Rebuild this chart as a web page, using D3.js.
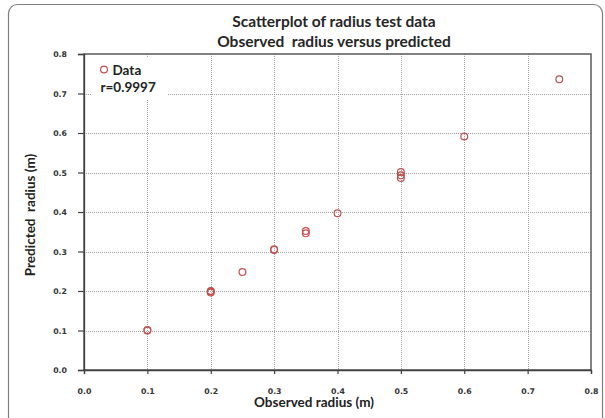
<!DOCTYPE html>
<html>
<head>
<meta charset="utf-8">
<script src="https://cdn.jsdelivr.net/npm/d3@7"></script>
<style>
  html, body { margin: 0; padding: 0; background: #fff; }
  svg { display: block; }
  text { white-space: pre; }
</style>
</head>
<body>
<svg id="chart" width="605" height="418"></svg>
<script>
// ---- data ----
const observed  = [0.1, 0.1, 0.2, 0.2, 0.2, 0.25, 0.3, 0.3, 0.35, 0.35, 0.4, 0.5, 0.5, 0.5, 0.6, 0.75];
const predicted = [0.1, 0.101, 0.196, 0.2, 0.198, 0.248, 0.304, 0.306, 0.346, 0.352, 0.397, 0.486, 0.493, 0.501, 0.591, 0.736];
const xTicks = [0, 0.1, 0.2, 0.3, 0.4, 0.5, 0.6, 0.7, 0.8];
const yTicks = [0, 0.1, 0.2, 0.3, 0.4, 0.5, 0.6, 0.7, 0.8];
const titleLines = ["Scatterplot of radius test data", "Observed  radius versus predicted"];
const xTitle = "Observed radius (m)";
const yTitle = "Predicted  radius (m)";
const legendLabel = "Data";
const rLabel = "r=0.9997";

(function () {
const svg = d3.select("#chart");
const font = "Lato, 'Open Sans', sans-serif";
const pL = 84, pR = 591, pT = 54, pB = 370;

const x = d3.scaleLinear().domain([0, 0.8]).range([pL, pR]);
const y = d3.scaleLinear().domain([0, 0.8]).range([pB, pT]);

// outer frame
svg.append("rect").attr("x", 8.5).attr("y", 4.5).attr("width", 594).attr("height", 430)
  .attr("rx", 9).attr("fill", "#fff").attr("stroke", "#7f7f7f").attr("stroke-width", 1.2);

// gridlines
const grid = svg.append("g");
grid.selectAll("line.v").data(xTicks.slice(1, -1)).join("line")
  .attr("x1", d => Math.round(x(d)) + 0.5).attr("x2", d => Math.round(x(d)) + 0.5)
  .attr("y1", pT).attr("y2", pB)
  .attr("stroke", "#a0a0a0").attr("stroke-width", 1).attr("stroke-dasharray", "1,1");
grid.selectAll("line.h").data(yTicks.slice(1, -1)).join("line")
  .attr("y1", d => Math.round(y(d)) + 0.5).attr("y2", d => Math.round(y(d)) + 0.5)
  .attr("x1", pL).attr("x2", pR)
  .attr("stroke", "#a0a0a0").attr("stroke-width", 1).attr("stroke-dasharray", "1,1");

// legend background (covers gridlines)
svg.append("rect").attr("x", 92).attr("y", 58).attr("width", 76).attr("height", 42).attr("fill", "#fff");

// plot box
svg.append("rect").attr("x", pL).attr("y", pT).attr("width", pR - pL).attr("height", pB - pT)
  .attr("fill", "none").attr("stroke", "#404040").attr("stroke-width", 1.3);

// axes
const xAxis = d3.axisBottom(x).tickValues(xTicks).tickFormat(d3.format(".1f")).tickSize(4).tickPadding(14);
const yAxis = d3.axisLeft(y).tickValues(yTicks).tickFormat(d3.format(".1f")).tickSize(6).tickPadding(11);
const gx = svg.append("g").attr("transform", `translate(0,${pB})`).call(xAxis);
const gy = svg.append("g").attr("transform", `translate(${pL},0)`).call(yAxis);
[gx, gy].forEach(g => {
  g.select(".domain").attr("stroke", "#404040").attr("stroke-width", 1.3);
  g.selectAll(".tick line").attr("stroke", "#404040").attr("stroke-width", 1.2);
  g.selectAll(".tick text").attr("font-family", "'DejaVu Sans', sans-serif")
    .attr("font-size", 7.8).attr("font-weight", "bold").attr("fill", "#333");
});

// points
svg.append("g").selectAll("circle").data(observed.map((o, i) => [o, predicted[i]])).join("circle")
  .attr("cx", d => x(d[0])).attr("cy", d => y(d[1])).attr("r", 3.4)
  .attr("fill", "none").attr("stroke", "#c0504d").attr("stroke-width", 1.2);

// legend
svg.append("circle").attr("cx", 104).attr("cy", 69.5).attr("r", 3.4)
  .attr("fill", "none").attr("stroke", "#c0504d").attr("stroke-width", 1.2);
svg.append("text").attr("x", 112.5).attr("y", 74.5).text(legendLabel)
  .attr("font-family", font).attr("font-size", 13.5).attr("font-weight", "bold").attr("fill", "#222");
svg.append("text").attr("x", 100.5).attr("y", 92).text(rLabel)
  .attr("font-family", font).attr("font-size", 13.5).attr("font-weight", "bold").attr("fill", "#222");

// titles
svg.append("g").selectAll("text").data(titleLines).join("text")
  .attr("x", 334).attr("y", (d, i) => 26.5 + i * 20).attr("text-anchor", "middle")
  .attr("font-family", font).attr("font-size", 15.5).attr("font-weight", "bold").attr("fill", "#262626")
  .text(d => d);

svg.append("text").attr("x", 314).attr("y", 407).attr("text-anchor", "middle")
  .attr("font-family", font).attr("font-size", 13.5).attr("font-weight", "bold").attr("fill", "#222")
  .text(xTitle);
svg.append("text").attr("transform", "translate(35,215) rotate(-90)").attr("text-anchor", "middle")
  .attr("font-family", font).attr("font-size", 13.5).attr("font-weight", "bold").attr("fill", "#222")
  .text(yTitle);
})();
</script>
</body>
</html>
